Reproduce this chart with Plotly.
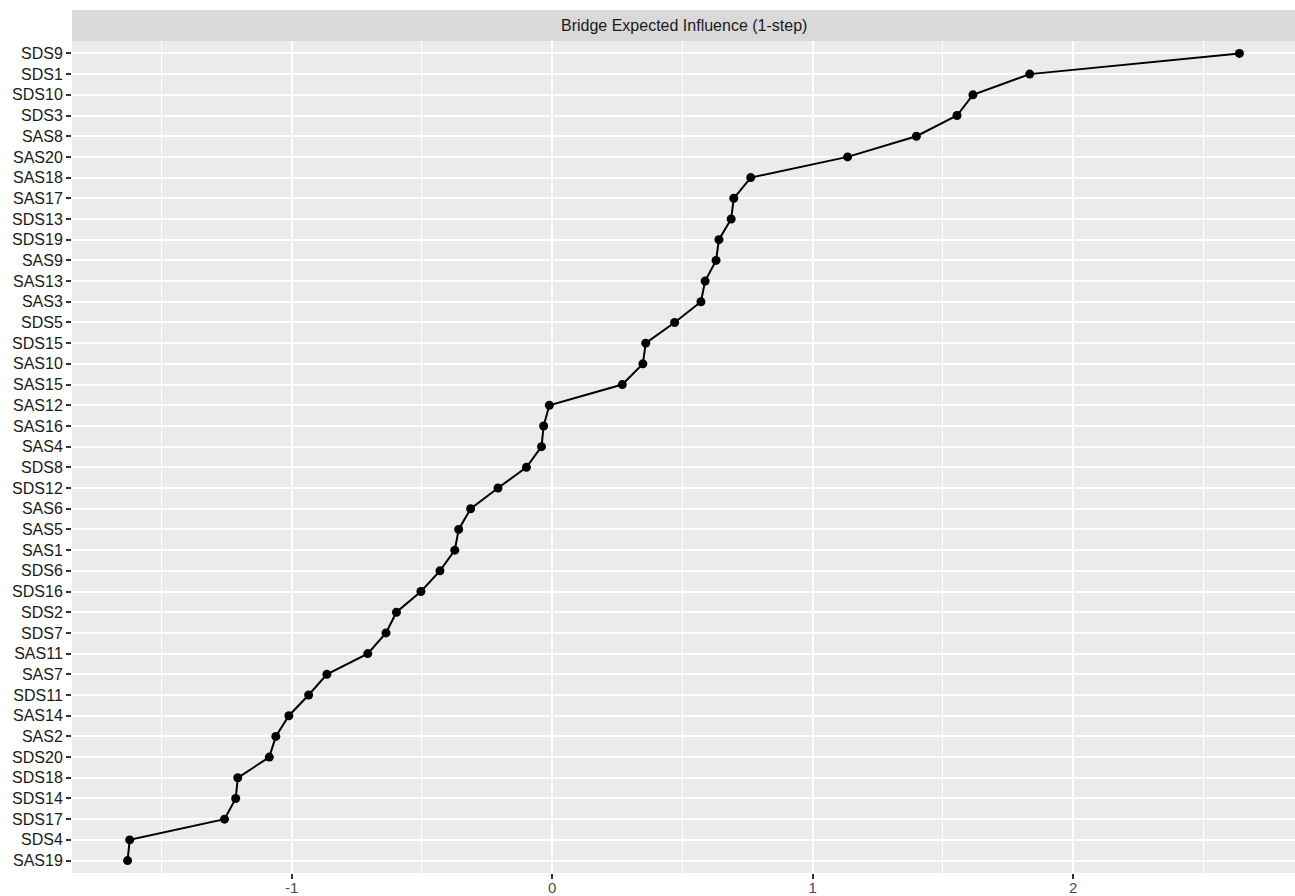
import plotly.graph_objects as go

nodes = ["SAS19", "SDS4", "SDS17", "SDS14", "SDS18", "SDS20", "SAS2", "SAS14", "SDS11", "SAS7",
         "SAS11", "SDS7", "SDS2", "SDS16", "SDS6", "SAS1", "SAS5", "SAS6", "SDS12", "SDS8",
         "SAS4", "SAS16", "SAS12", "SAS15", "SAS10", "SDS15", "SDS5", "SAS3", "SAS13", "SAS9",
         "SDS19", "SDS13", "SAS17", "SAS18", "SAS20", "SAS8", "SDS3", "SDS10", "SDS1", "SDS9"]
values = [-1.630, -1.622, -1.258, -1.215, -1.207, -1.086, -1.061, -1.011, -0.935, -0.865,
          -0.708, -0.638, -0.598, -0.504, -0.431, -0.374, -0.359, -0.313, -0.208, -0.099,
          -0.041, -0.033, -0.011, 0.269, 0.348, 0.359, 0.470, 0.571, 0.587, 0.629,
          0.640, 0.687, 0.697, 0.762, 1.134, 1.398, 1.554, 1.615, 1.833, 2.638]
x_ticks = [-1, 0, 1, 2]
strip_title = "Bridge Expected Influence (1-step)"

fig = go.Figure()
fig.add_trace(go.Scatter(
    x=values, y=nodes, mode="lines+markers",
    line=dict(color="black", width=2),
    marker=dict(color="black", size=9),
    showlegend=False,
))

lo, hi = min(values), max(values)
pad = (hi - lo) * 0.05

font_family = "Liberation Sans, Arial, sans-serif"
fig.update_layout(
    width=1295, height=896,
    margin=dict(l=72, r=0, t=41, b=23),
    paper_bgcolor="white",
    plot_bgcolor="#EBEBEB",
    font=dict(family=font_family, size=16, color="#4D4D4D"),
    xaxis=dict(
        automargin=False,
        range=[lo - pad, hi + pad],
        tickvals=x_ticks,
        ticktext=[str(v) for v in x_ticks],
        ticks="outside", ticklen=5, tickcolor="#333333", tickwidth=1.5,
        ticklabelstandoff=-4,
        showgrid=True, gridcolor="white", gridwidth=2,
        minor=dict(dtick=0.5, tick0=0.5, showgrid=True, gridcolor="white", gridwidth=1, ticks=""),
        zeroline=False, showline=False,
        tickfont=dict(size=15, color="#4D4D4D"),
    ),
    yaxis=dict(
        automargin=False,
        type="category",
        categoryorder="array", categoryarray=nodes,
        range=[-0.6, len(nodes) - 1 + 0.6],
        ticks="outside", ticklen=5, tickcolor="#333333", tickwidth=1.5,
        showgrid=True, gridcolor="white", gridwidth=2,
        zeroline=False, showline=False,
        tickfont=dict(size=16, color="#1A1A1A"),
    ),
)

strip_h = 31 / (896 - 41 - 23)
fig.add_shape(type="rect", xref="paper", yref="paper", x0=0, x1=1, y0=1, y1=1 + strip_h,
              fillcolor="#D9D9D9", line=dict(width=0), layer="below")
fig.add_annotation(text=strip_title, xref="paper", yref="paper", x=0.5, y=1 + strip_h / 2,
                   showarrow=False, xanchor="center", yanchor="middle",
                   font=dict(family=font_family, size=16, color="#1A1A1A"))

fig.write_html("out.html", config={"displayModeBar": False},
               post_script="document.body.style.margin='0';document.body.style.overflow='hidden';")
